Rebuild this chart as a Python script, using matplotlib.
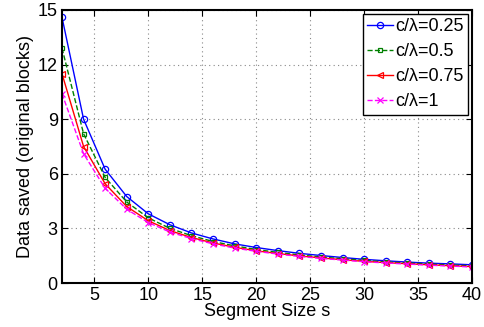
import matplotlib
matplotlib.use("Agg")
import matplotlib.pyplot as plt

s = list(range(2, 41, 2))
labels = ["c/\u03bb=0.25", "c/\u03bb=0.5", "c/\u03bb=0.75", "c/\u03bb=1"]
v025 = [14.6, 9.0, 6.25, 4.75, 3.8, 3.2, 2.75, 2.42, 2.15, 1.95, 1.78, 1.63, 1.51, 1.40, 1.30, 1.22, 1.15, 1.09, 1.05, 1.00]
v050 = [12.9, 8.2, 5.8, 4.45, 3.58, 3.0, 2.6, 2.28, 2.04, 1.84, 1.68, 1.54, 1.43, 1.33, 1.24, 1.16, 1.10, 1.04, 0.99, 0.94]
v075 = [11.5, 7.5, 5.45, 4.2, 3.42, 2.88, 2.5, 2.2, 1.96, 1.77, 1.62, 1.49, 1.38, 1.28, 1.19, 1.12, 1.06, 1.00, 0.95, 0.90]
v100 = [10.4, 7.1, 5.2, 4.05, 3.32, 2.8, 2.44, 2.15, 1.92, 1.74, 1.59, 1.46, 1.35, 1.26, 1.17, 1.10, 1.04, 0.98, 0.93, 0.88]
xticks = [5, 10, 15, 20, 25, 30, 35, 40]
yticks = [0, 3, 6, 9, 12, 15]

plt.rcParams['font.family'] = ['Liberation Sans', 'DejaVu Sans']
fig = plt.figure(figsize=(4.84, 3.27), dpi=100)
ax = fig.add_axes([62/484, 1-283/327, 410/484, 273/327])

styles = [
    dict(color='#0000ff', ls='-', marker='o', mfc='none', ms=4.5),
    dict(color='#008000', ls='--', marker='s', mfc='none', ms=3.5),
    dict(color='#ff0000', ls='-', marker='<', mfc='none', ms=4.5),
    dict(color='#ff00ff', ls='--', marker='x', ms=4.5),
]
for vals, lab, st in zip([v025, v050, v075, v100], labels, styles):
    ax.plot(s, vals, label=lab, lw=1, mew=0.9, **st)

ax.set_xlim(2, 40)
ax.set_ylim(0, 15)
ax.set_xticks(xticks)
ax.set_yticks(yticks)
ax.tick_params(direction='in', labelsize=13, length=4, top=True, right=True, pad=3)
ax.grid(True, ls=(0, (1, 3)), color='#888888', lw=0.8)
for sp in ax.spines.values():
    sp.set_linewidth(1.5)
ax.set_xlabel("Segment Size s", fontsize=13, labelpad=-1)
ax.set_ylabel("Data saved (original blocks)", fontsize=13, labelpad=3)
leg = ax.legend(loc='upper right', fontsize=13, fancybox=False, edgecolor='black',
                framealpha=1, borderpad=0.25, labelspacing=0.45, handlelength=1.4,
                handletextpad=0.15, borderaxespad=0.2)
leg.get_frame().set_linewidth(1.0)
fig.savefig("out.png", dpi=100)
